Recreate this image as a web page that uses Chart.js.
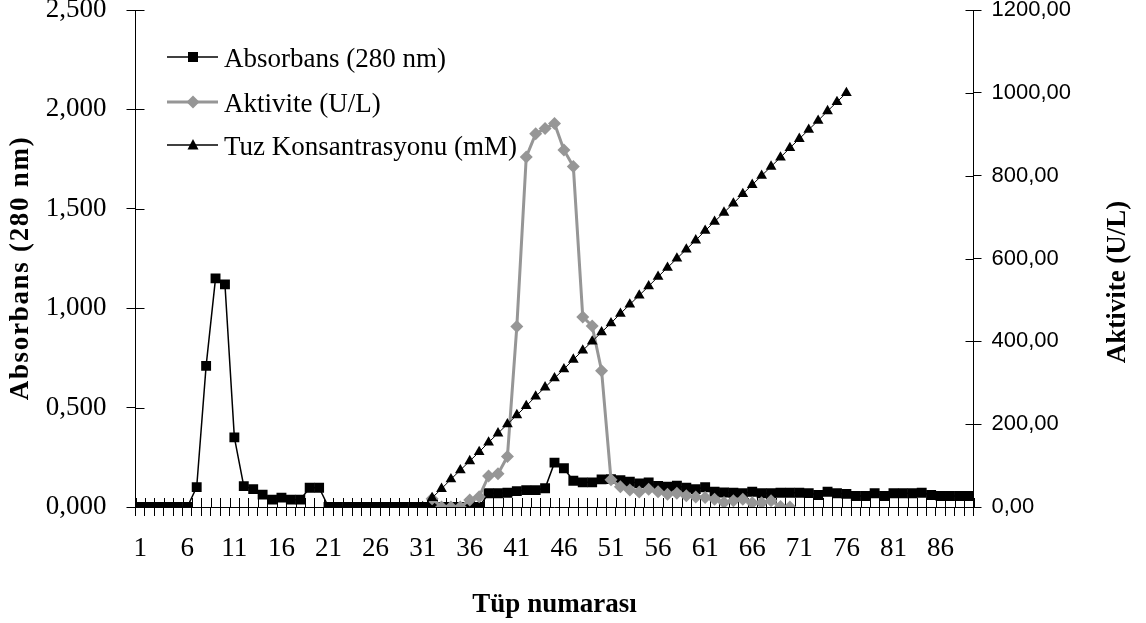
<!DOCTYPE html>
<html>
<head>
<meta charset="utf-8">
<title>Absorbans / Aktivite / Tuz Konsantrasyonu</title>
<script src="https://cdn.jsdelivr.net/npm/chart.js@4.4.1/dist/chart.umd.min.js"></script>
<style>
  html, body { margin: 0; padding: 0; background: #fff; }
  canvas { display: block; }
</style>
</head>
<body>
<canvas id="elutionChart" width="1146" height="623"></canvas>
<script>
// Tube numbers 1..89
const tubes = [];
for (let i = 1; i <= 89; i++) tubes.push(String(i));

// Absorbans (280 nm), one value per tube
const absorbans = [
  0, 0, 0, 0, 0, 0,
  0.10, 0.71, 1.15, 1.12, 0.35, 0.105, 0.09, 0.062, 0.037, 0.047, 0.037, 0.037, 0.097, 0.097,
  0, 0, 0, 0, 0, 0, 0, 0, 0, 0, 0, 0, 0, 0, 0, 0, 0,
  0.069, 0.069, 0.072, 0.08, 0.085, 0.085, 0.094, 0.223, 0.195, 0.132,
  0.124, 0.124, 0.139, 0.14, 0.135, 0.127, 0.119, 0.124, 0.106, 0.102,
  0.107, 0.097, 0.09, 0.099, 0.077, 0.073, 0.072, 0.069, 0.077, 0.069,
  0.069, 0.072, 0.072, 0.072, 0.07, 0.06, 0.077, 0.069, 0.066, 0.055,
  0.055, 0.069, 0.055, 0.069, 0.069, 0.069, 0.072, 0.06, 0.055, 0.055,
  0.055, 0.055
];

// Aktivite (U/L), measured from tube 32 to tube 70
const activityFirstTube = 32;
const activity = [
  20, 0, 0, 0, 17, 25, 75, 80, 122, 436,
  845, 901, 914, 926, 862, 822, 459, 437, 329, 66,
  49, 41, 36, 43, 37, 31, 33, 27, 24, 23,
  19, 11, 15, 19, 10, 10, 15, 1, 0
];

// Tuz konsantrasyonu (mM), gradient from tube 31 to tube 76
const saltFirstTube = 31;
const salt = [
  0, 22, 44, 67, 89, 111, 133, 156, 178, 200,
  222, 244, 267, 289, 311, 333, 356, 378, 400, 422,
  444, 467, 489, 511, 533, 556, 578, 600, 622, 644,
  667, 689, 711, 733, 756, 778, 800, 822, 844, 867,
  889, 911, 933, 956, 978, 1000
];

const absTicks = [0, 0.5, 1, 1.5, 2, 2.5];
const actTicks = [0, 200, 400, 600, 800, 1000, 1200];

const SERIF = '"Liberation Serif", "Times New Roman", serif';
const SANS = '"Liberation Sans", Arial, sans-serif';
const GREY = '#969696';

const seriesFrom = (first, values) => values.map((v, k) => ({ x: tubes[first - 1 + k], y: v }));

// Draw the inner half of the crossing tick marks, the axis titles and the legend
const decorPlugin = {
  id: 'decor',
  beforeDatasetsDraw(chart) {
    const ctx = chart.ctx;
    const { x, y, y1 } = chart.scales;
    const crisp = v => Math.round(v) + 0.5;
    ctx.save();
    ctx.strokeStyle = '#000';
    ctx.lineWidth = 1;
    ctx.beginPath();
    for (let i = 0; i <= tubes.length; i++) {
      const px = crisp(x.getPixelForValue(i - 0.5));
      ctx.moveTo(px, x.top);
      ctx.lineTo(px, x.top - 9);
    }
    absTicks.forEach(v => {
      const py = crisp(y.getPixelForValue(v));
      ctx.moveTo(y.right, py);
      ctx.lineTo(y.right + 9, py);
    });
    actTicks.forEach(v => {
      const py = crisp(y1.getPixelForValue(v));
      ctx.moveTo(y1.left, py);
      ctx.lineTo(y1.left - 8, py);
    });
    ctx.stroke();
    ctx.restore();
  },
  afterDraw(chart) {
    const ctx = chart.ctx;
    const area = chart.chartArea;
    ctx.save();
    ctx.fillStyle = '#000';
    ctx.textAlign = 'center';
    ctx.textBaseline = 'middle';
    ctx.font = 'bold 27px ' + SERIF;

    // x title
    ctx.fillText('Tüp numarası', (area.left + area.right) / 2, 605);

    // left title (Excel spreads this one out a little)
    ctx.save();
    ctx.translate(21, 268);
    ctx.rotate(-Math.PI / 2);
    ctx.letterSpacing = '1.7px';
    ctx.fillText('Absorbans (280 nm)', 0, 0);
    ctx.restore();

    // right title
    ctx.save();
    ctx.translate(1118, 282);
    ctx.rotate(-Math.PI / 2);
    ctx.fillText('Aktivite (U/L)', 0, 0);
    ctx.restore();

    // legend
    const rows = [
      { text: 'Absorbans (280 nm)', color: '#000', width: 1.5, shape: 'rect', y: 57 },
      { text: 'Aktivite (U/L)', color: GREY, width: 3, shape: 'diamond', y: 102 },
      { text: 'Tuz Konsantrasyonu (mM)', color: '#000', width: 1.5, shape: 'triangle', y: 145 }
    ];
    ctx.textAlign = 'left';
    ctx.font = '27px ' + SERIF;
    rows.forEach(row => {
      ctx.strokeStyle = row.color;
      ctx.fillStyle = row.color;
      ctx.lineWidth = row.width;
      ctx.beginPath();
      ctx.moveTo(167, row.y);
      ctx.lineTo(218, row.y);
      ctx.stroke();
      const cx = 193;
      ctx.beginPath();
      if (row.shape === 'rect') {
        ctx.rect(cx - 5, row.y - 5, 10, 10);
      } else if (row.shape === 'diamond') {
        ctx.moveTo(cx - 6.5, row.y);
        ctx.lineTo(cx, row.y - 6.5);
        ctx.lineTo(cx + 6.5, row.y);
        ctx.lineTo(cx, row.y + 6.5);
        ctx.closePath();
      } else {
        ctx.moveTo(cx, row.y - 6);
        ctx.lineTo(cx + 5.5, row.y + 4.5);
        ctx.lineTo(cx - 5.5, row.y + 4.5);
        ctx.closePath();
      }
      ctx.fill();
      ctx.fillStyle = '#000';
      ctx.fillText(row.text, 224, row.y + 3);
    });
    ctx.restore();
  }
};

const ctx = document.getElementById('elutionChart').getContext('2d');

new Chart(ctx, {
  type: 'line',
  data: {
    labels: tubes,
    datasets: [
      {
        label: 'Absorbans (280 nm)',
        data: absorbans,
        yAxisID: 'y',
        borderColor: '#000',
        backgroundColor: '#000',
        borderWidth: 1.5,
        pointStyle: 'rect',
        pointRadius: 7,
        pointBorderWidth: 0,
        order: 3
      },
      {
        label: 'Aktivite (U/L)',
        data: seriesFrom(activityFirstTube, activity),
        yAxisID: 'y1',
        borderColor: GREY,
        backgroundColor: GREY,
        borderWidth: 3,
        pointStyle: 'rectRot',
        pointRadius: 6.5,
        pointBorderWidth: 0,
        order: 2
      },
      {
        label: 'Tuz Konsantrasyonu (mM)',
        data: seriesFrom(saltFirstTube, salt),
        yAxisID: 'y1',
        borderColor: '#000',
        backgroundColor: '#000',
        borderWidth: 1,
        pointStyle: 'triangle',
        pointRadius: 6.2,
        pointBorderWidth: 0,
        order: 1
      }
    ]
  },
  options: {
    responsive: false,
    animation: false,
    devicePixelRatio: 1,
    layout: { padding: { top: 10, left: 0, right: 0, bottom: 0 } },
    plugins: {
      legend: { display: false },
      tooltip: { enabled: false }
    },
    scales: {
      x: {
        type: 'category',
        offset: true,
        grid: { offset: true, drawOnChartArea: false, color: '#000', tickLength: 9, lineWidth: 1 },
        border: { display: true, color: '#000', width: 1 },
        ticks: {
          autoSkip: false,
          maxRotation: 0,
          minRotation: 0,
          color: '#000',
          padding: 17,
          font: { family: SERIF, size: 27 },
          callback: (value, index) => (index % 5 === 0 ? tubes[index] : '')
        },
        afterFit(scale) {
          scale.height = 116;
          scale.paddingLeft = 0;
          scale.paddingRight = 0;
        }
      },
      y: {
        position: 'left',
        min: 0,
        max: 2.5,
        grid: { drawOnChartArea: false, color: '#000', tickLength: 9, lineWidth: 1 },
        border: { display: true, color: '#000', width: 1 },
        ticks: {
          stepSize: 0.5,
          color: '#000',
          padding: 20,
          font: { family: SERIF, size: 27 },
          callback: v => v.toFixed(3).replace('.', ',')
        },
        afterFit(scale) {
          scale.width = 135.5;
          scale.paddingTop = 0;
          scale.paddingBottom = 0;
        }
      },
      y1: {
        position: 'right',
        min: 0,
        max: 1200,
        grid: { drawOnChartArea: false, color: '#000', tickLength: 8, lineWidth: 1 },
        border: { display: true, color: '#000', width: 1 },
        ticks: {
          stepSize: 200,
          color: '#000',
          padding: 10,
          font: { family: SANS, size: 22 },
          callback: v => v.toFixed(2).replace('.', ',')
        },
        afterFit(scale) {
          scale.width = 172.5;
          scale.paddingTop = 0;
          scale.paddingBottom = 0;
        }
      }
    }
  },
  plugins: [decorPlugin]
});
</script>
</body>
</html>
